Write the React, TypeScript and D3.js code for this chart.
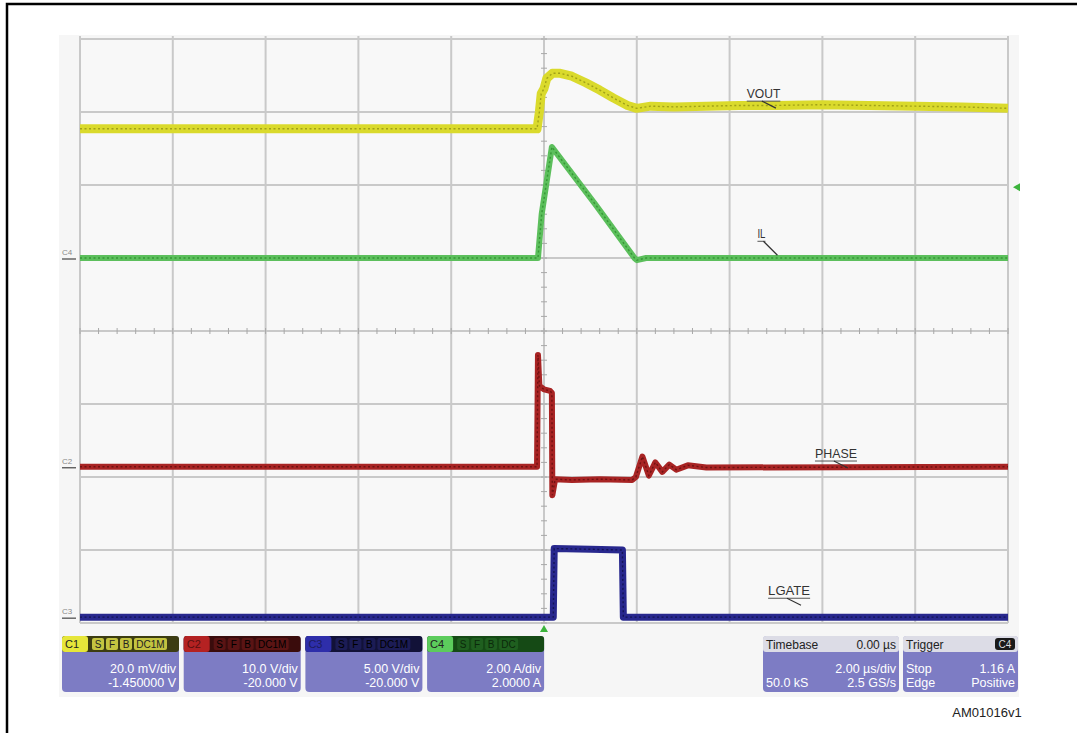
import React from "react";
import * as d3 from "d3";

// time axis in µs (2 µs/div, 10 div), vertical axis in screen divisions (8 div)
const timeDomain: [number, number] = [-10, 10];
const levelDomain: [number, number] = [-4, 4];

// traces: [time µs, level in divisions]
const voutTrace: [number, number][] = [
  [-10, 2.77], [-0.15, 2.77], [-0.1, 3.0], [-0.06, 3.25], [0.0, 3.32], [0.06, 3.46],
  [0.18, 3.53], [0.35, 3.53], [0.6, 3.49], [0.9, 3.4], [1.2, 3.3], [1.5, 3.19],
  [1.8, 3.09], [2.0, 3.05], [2.3, 3.08], [2.8, 3.07], [3.5, 3.08], [4.2, 3.09],
  [5.0, 3.09], [6.0, 3.1], [7.0, 3.09], [8.0, 3.08], [9.0, 3.07], [10, 3.05],
];
const ilTrace: [number, number][] = [
  [-10, 1.0], [-0.13, 1.0], [-0.05, 1.6], [0.17, 2.52], [1.1, 1.74],
  [1.95, 1.0], [2.0, 0.97], [2.2, 1.0], [10, 1.0],
];
const phaseTrace: [number, number][] = [
  [-10, -1.86], [-0.15, -1.86], [-0.13, -0.33], [-0.1, -0.75], [0.0, -0.8], [0.13, -0.82],
  [0.17, -0.85], [0.18, -2.25], [0.24, -2.03], [0.6, -2.04], [1.2, -2.03], [1.9, -2.04],
  [1.98, -2.0], [2.12, -1.72], [2.26, -1.98], [2.4, -1.8], [2.55, -1.93], [2.7, -1.83],
  [2.85, -1.9], [3.1, -1.84], [3.5, -1.87], [10, -1.86],
];
const lgateTrace: [number, number][] = [
  [-10, -3.92], [0.2, -3.92], [0.22, -2.98], [1.0, -2.99], [1.69, -3.0], [1.71, -3.92], [10, -3.92],
];

// trace annotations: [label, time µs, level div]
const traceLabels: [string, number, number][] = [
  ["VOUT", 4.37, 3.19],
  ["IL", 4.6, 1.27],
  ["PHASE", 5.84, -1.74],
  ["LGATE", 4.83, -3.62],
];

// channel ground markers on the left: [label, level div]
const channelMarkers: [string, number][] = [
  ["C4", 1.0],
  ["C2", -1.86],
  ["C3", -3.92],
];

// bottom descriptor boxes
const channelNames = ["C1", "C2", "C3", "C4"];
const channelFlags = ["S F B DC1M", "S F B DC1M", "S F B DC1M", "S F B DC"];
const channelScales = ["20.0 mV/div", "10.0 V/div", "5.00 V/div", "2.00 A/div"];
const channelOffsets = ["-1.450000 V", "-20.000 V", "-20.000 V", "2.0000 A"];
const timebaseTexts = ["Timebase", "0.00 µs", "2.00 µs/div", "50.0 kS", "2.5 GS/s"];
const triggerTexts = ["Trigger", "C4", "Stop", "1.16 A", "Edge", "Positive"];
const triggerLevel = 1.97; // divisions, right-edge marker

const FONT = "'Liberation Sans', Arial, Helvetica, sans-serif";

export default function App() {
  const x = d3.scaleLinear().domain(timeDomain).range([80, 1008]);
  const y = d3.scaleLinear().domain(levelDomain).range([623, 39]);
  const line = d3.line<[number, number]>().x((d) => x(d[0])).y((d) => y(d[1]));

  const xTicks = d3.range(-10, 10.001, 2);
  const yTicks = d3.range(-4, 4.001, 1);
  const xMinor = d3.range(-10, 10.001, 0.4);
  const yMinor = d3.range(-4, 4.001, 0.2);

  const traces = [
    { data: voutTrace, band: "#dada2c", core: "#8e8e12", w: 9 },
    { data: ilTrace, band: "#5cbf5c", core: "#2a8a2a", w: 6 },
    { data: phaseTrace, band: "#a82424", core: "#5e0c0c", w: 6 },
    { data: lgateTrace, band: "#28288e", core: "#0e0e44", w: 7 },
  ];

  const chanColors = [
    { main: "#e6e63a", dark: "#3c3c12", flag: "#c4c440", text: "#222" },
    { main: "#b42222", dark: "#3a0c0c", flag: "#5a1414", text: "#5a1010" },
    { main: "#2e2eaa", dark: "#121238", flag: "#1c1c55", text: "#1c1c60" },
    { main: "#5ccc5c", dark: "#154a15", flag: "#1f5f1f", text: "#222" },
  ];
  const bodyFill = "#7d7cc4";
  const panelTop = 636;
  const panelH = 56;
  const headH = 16;

  return (
    <svg
      width={1077}
      height={733}
      style={{ position: "absolute", left: 0, top: 0, fontFamily: FONT }}
    >
      <rect x={0} y={0} width={1077} height={733} fill="#ffffff" />
      <rect x={7} y={4} width={1085} height={745} fill="none" stroke="#000" strokeWidth={2.5} />
      <rect x={59} y={35} width={960} height={662} fill="#f6f6f6" />
      <rect x={80} y={39} width={928} height={584} fill="#f8f8f8" />

      {/* grid */}
      {xTicks.map((t) => (
        <line key={"gx" + t} x1={x(t)} x2={x(t)} y1={y(4) - 3} y2={y(-4)} stroke="#c9c9c9" strokeWidth={2} />
      ))}
      {yTicks.map((v) => (
        <line key={"gy" + v} x1={x(-10)} x2={x(10)} y1={y(v)} y2={y(v)} stroke="#c9c9c9" strokeWidth={2} />
      ))}
      {xMinor.map((t) => (
        <line key={"mx" + t} x1={x(t)} x2={x(t)} y1={y(0) - 3} y2={y(0) + 3} stroke="#a8a8a8" strokeWidth={1} />
      ))}
      {yMinor.map((v) => (
        <line key={"my" + v} x1={x(0) - 3} x2={x(0) + 3} y1={y(v)} y2={y(v)} stroke="#a8a8a8" strokeWidth={1} />
      ))}

      {/* traces */}
      {traces.map((tr, i) => (
        <g key={"tr" + i}>
          <path d={line(tr.data) || ""} fill="none" stroke={tr.band} strokeWidth={tr.w} strokeLinejoin="round" />
          <path
            d={line(tr.data) || ""}
            fill="none"
            stroke={tr.core}
            strokeWidth={1.4}
            strokeDasharray="2 2.5"
            opacity={0.75}
          />
        </g>
      ))}

      {/* trace labels */}
      {traceLabels.map(([lab, t, v]) => {
        const tx = x(t);
        const ty = y(v);
        const w = lab.length * 8.4;
        return (
          <g key={lab}>
            <text x={tx} y={ty} fontSize={12} fill="#333" textLength={lab === "IL" ? 8 : w} lengthAdjust="spacingAndGlyphs">
              {lab}
            </text>
            <line x1={tx} x2={tx + (lab === "IL" ? 8 : w)} y1={ty + 3} y2={ty + 3} stroke="#555" strokeWidth={1} />
            <line
              x1={tx + (lab === "IL" ? 6 : w * 0.45)}
              y1={ty + 3}
              x2={tx + (lab === "IL" ? 20 : w * 0.45 + 14)}
              y2={ty + (lab === "IL" ? 17 : 10)}
              stroke="#333"
              strokeWidth={1.2}
            />
          </g>
        );
      })}

      {/* channel markers */}
      {channelMarkers.map(([lab, v]) => (
        <g key={lab}>
          <text x={62} y={y(v) - 3} fontSize={8} fill="#8a8a8a">
            {lab}
          </text>
          <line x1={62} x2={76} y1={y(v) + 1} y2={y(v) + 1} stroke="#444" strokeWidth={1.2} />
        </g>
      ))}

      {/* trigger markers */}
      <path d={`M${x(10) + 5},${y(triggerLevel)} l7,-4 l0,8 z`} fill="#3cb43c" />
      <path d={`M${x(0)},${y(-4) + 2} l-4,7 l8,0 z`} fill="#3cb43c" />

      {/* channel descriptor boxes */}
      {channelNames.map((nm, i) => {
        const px = 62 + i * 121.7;
        const pw = 117;
        const c = chanColors[i];
        const flags = channelFlags[i].split(" ");
        let fx = px + 30;
        return (
          <g key={nm}>
            <rect x={px} y={panelTop} width={pw} height={panelH} rx={4} fill={bodyFill} />
            <rect x={px} y={panelTop} width={pw} height={headH} rx={3} fill={c.dark} />
            <rect x={px} y={panelTop} width={26} height={headH} rx={3} fill={c.main} />
            <text x={px + 3} y={panelTop + 12} fontSize={11} fill={c.text}>
              {nm}
            </text>
            {flags.map((f, k) => {
              const fw = f.length * 7 + 5;
              const el = (
                <g key={k}>
                  <rect x={fx} y={panelTop + 2} width={fw} height={12} rx={2} fill={c.flag} />
                  <text x={fx + fw / 2} y={panelTop + 12} fontSize={10} textAnchor="middle" fill={i === 0 ? "#222" : i === 3 ? "#0b2a0b" : "#000"}>
                    {f}
                  </text>
                </g>
              );
              fx += fw + 2;
              return el;
            })}
            <text x={px + pw - 3} y={panelTop + 37} fontSize={12.5} textAnchor="end" fill="#fff">
              {channelScales[i]}
            </text>
            <text x={px + pw - 3} y={panelTop + 51} fontSize={12.5} textAnchor="end" fill="#fff">
              {channelOffsets[i]}
            </text>
          </g>
        );
      })}

      {/* timebase */}
      <g>
        <rect x={763} y={panelTop} width={136} height={panelH} rx={4} fill={bodyFill} />
        <rect x={763} y={panelTop} width={136} height={headH} rx={3} fill="#dcdce6" />
        <text x={766} y={panelTop + 12.5} fontSize={12} fill="#222">{timebaseTexts[0]}</text>
        <text x={896} y={panelTop + 12.5} fontSize={12} fill="#222" textAnchor="end">{timebaseTexts[1]}</text>
        <text x={896} y={panelTop + 37} fontSize={12.5} fill="#fff" textAnchor="end">{timebaseTexts[2]}</text>
        <text x={766} y={panelTop + 51} fontSize={12.5} fill="#fff">{timebaseTexts[3]}</text>
        <text x={896} y={panelTop + 51} fontSize={12.5} fill="#fff" textAnchor="end">{timebaseTexts[4]}</text>
      </g>
      {/* trigger */}
      <g>
        <rect x={903} y={panelTop} width={115} height={panelH} rx={4} fill={bodyFill} />
        <rect x={903} y={panelTop} width={115} height={headH} rx={3} fill="#dcdce6" />
        <text x={906} y={panelTop + 12.5} fontSize={12} fill="#222">{triggerTexts[0]}</text>
        <rect x={995} y={panelTop + 2} width={20} height={12} rx={3} fill="#1a1a1a" />
        <text x={1005} y={panelTop + 12} fontSize={10} fill="#ddd" textAnchor="middle">{triggerTexts[1]}</text>
        <text x={906} y={panelTop + 37} fontSize={12.5} fill="#fff">{triggerTexts[2]}</text>
        <text x={1015} y={panelTop + 37} fontSize={12.5} fill="#fff" textAnchor="end">{triggerTexts[3]}</text>
        <text x={906} y={panelTop + 51} fontSize={12.5} fill="#fff">{triggerTexts[4]}</text>
        <text x={1015} y={panelTop + 51} fontSize={12.5} fill="#fff" textAnchor="end">{triggerTexts[5]}</text>
      </g>

      <text x={987} y={717} fontSize={13} fill="#222" textAnchor="middle">
        AM01016v1
      </text>
    </svg>
  );
}
